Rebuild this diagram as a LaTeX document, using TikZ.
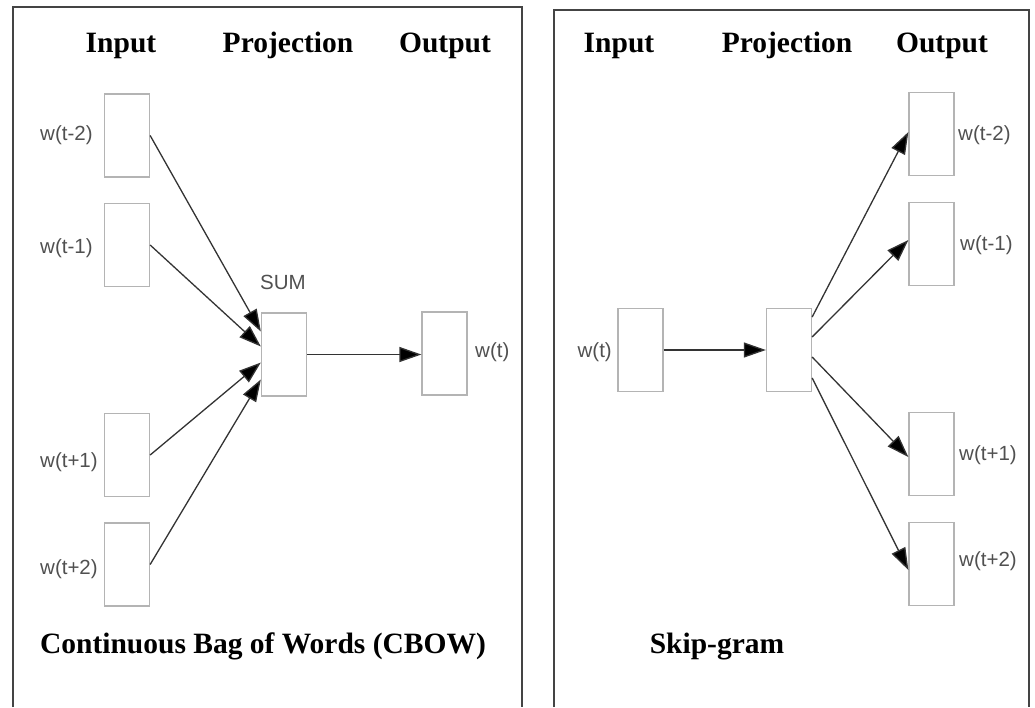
\documentclass[tikz,border=0pt]{standalone}
\usepackage{fontspec}
\setmainfont{Liberation Serif}
\setsansfont{Liberation Sans}
\usetikzlibrary{calc,arrows.meta}
\definecolor{boxgray}{HTML}{B4B4B4}
\definecolor{labgray}{HTML}{505050}
\definecolor{linegray}{HTML}{333333}
\definecolor{framegray}{HTML}{444444}
\tikzset{
  wbox/.style={draw=boxgray, line width=1.3pt, minimum width=45pt, minimum height=83pt, inner sep=0pt},
  wlabel/.style={font=\sffamily\fontsize{20.5}{22}\selectfont, text=labgray, inner sep=0pt},
  head/.style={font=\bfseries\fontsize{29.5}{32}\selectfont, inner sep=0pt, anchor=base},
  conn/.style={draw=linegray, line width=1.3pt, -{Triangle[length=22pt,width=15pt,fill=black]}},
  frame/.style={draw=framegray, line width=1.3pt}
}
\begin{document}
\begin{tikzpicture}[x=1pt,y=-1pt]
\useasboundingbox (0,0) rectangle (1035,707);
% frames
\draw[frame] (13,707) -- (13,7) -- (522,7) -- (522,707);
\draw[frame] (554,707) -- (554,10) -- (1029,10) -- (1029,707);
% headings
\node[head] (hl1) at (121,52) {Input};
\node[head] (hl2) at (288,52) {Projection};
\node[head] (hl3) at (445,52) {Output};
\node[head] (hr1) at (619,52) {Input};
\node[head] (hr2) at (787,52) {Projection};
\node[head] (hr3) at (942,52) {Output};
\node[head] (tl) at (263,653) {Continuous Bag of Words (CBOW)};
\node[head] (tr) at (717,653) {Skip-gram};
% CBOW boxes
\node[wbox] (a1) at (127,135.5) {};
\node[wbox] (a2) at (127,245) {};
\node[wbox] (a3) at (127,455) {};
\node[wbox] (a4) at (127,564.5) {};
\node[wbox] (ap) at (284,354.5) {};
\node[wbox] (ao) at (444.5,353.5) {};
\node[wlabel, anchor=west] (la1) at (40,135) {w(t-2)};
\node[wlabel, anchor=west] (la2) at (40,248) {w(t-1)};
\node[wlabel, anchor=west] (la3) at (40,462) {w(t+1)};
\node[wlabel, anchor=west] (la4) at (40,569) {w(t+2)};
\node[wlabel] (lsum) at (283,282) {SUM};
\node[wlabel, anchor=west] (lao) at (475,352) {w(t)};
\draw[conn] (a1.east) -- ($(ap.west)+(0,-23)$);
\draw[conn] (a2.east) -- ($(ap.west)+(0,-8)$);
\draw[conn] (a3.east) -- ($(ap.west)+(0,8)$);
\draw[conn] (a4.east) -- ($(ap.west)+(0,25)$);
\draw[conn] (ap.east) -- (ap.east -| ao.west);
% Skip-gram boxes
\node[wbox] (bi) at (640.5,350) {};
\node[wbox] (bp) at (789,350) {};
\node[wbox] (b1) at (931.5,134) {};
\node[wbox] (b2) at (931.5,244) {};
\node[wbox] (b3) at (931.5,454) {};
\node[wbox] (b4) at (931.5,564) {};
\node[wlabel, anchor=east] (lbi) at (612,352) {w(t)};
\node[wlabel, anchor=west] (lb1) at (958,135) {w(t-2)};
\node[wlabel, anchor=west] (lb2) at (960,245) {w(t-1)};
\node[wlabel, anchor=west] (lb3) at (959,455) {w(t+1)};
\node[wlabel, anchor=west] (lb4) at (959,561) {w(t+2)};
\draw[conn] (bi.east) -- (bp.west);
\draw[conn] ($(bp.east)+(0,-33)$) -- ($(b1.west)+(0,-2)$);
\draw[conn] ($(bp.east)+(0,-13)$) -- ($(b2.west)+(0,-4)$);
\draw[conn] ($(bp.east)+(0,7)$) -- ($(b3.west)+(0,3)$);
\draw[conn] ($(bp.east)+(0,28)$) -- ($(b4.west)+(0,6)$);
\end{tikzpicture}
\end{document}
